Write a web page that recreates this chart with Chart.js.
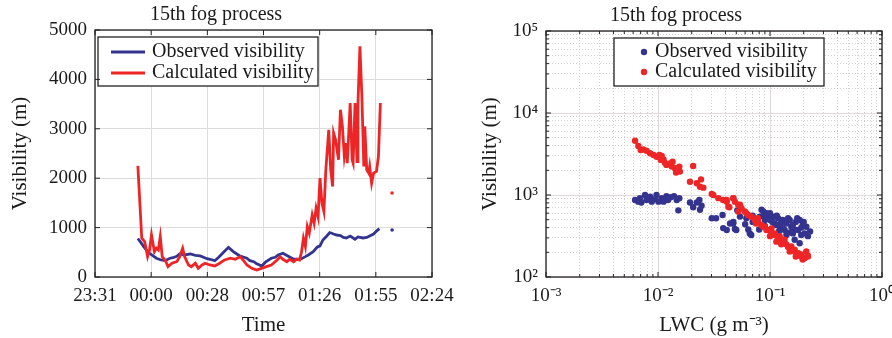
<!DOCTYPE html>
<html>
<head>
<meta charset="utf-8">
<script src="https://cdn.jsdelivr.net/npm/chart.js@4.4.1/dist/chart.umd.min.js"></script>
<style>
  html, body { margin: 0; padding: 0; background: #fff; }
  #wrap { position: relative; width: 892px; height: 338px; overflow: hidden; }
  canvas { position: absolute; top: 0; }
  #timeChart { left: 0; }
  #lwcChart { left: 470px; }
</style>
</head>
<body>
<div id="wrap">
  <canvas id="timeChart" width="470" height="338"></canvas>
  <canvas id="lwcChart" width="422" height="338"></canvas>
</div>
<script>
// 15th fog process: visibility time series and visibility vs LWC

const timeTicks = ['23:31', '00:00', '00:28', '00:57', '01:26', '01:55', '02:24'];
const timeSpan = 173; // minutes between first and last tick

// observed visibility (m); null marks the gap in the record
const obsTime = ['23:53:00','23:54:30','23:56:00','23:57:30','23:59:00','00:02:30','00:05:00','00:07:00','00:09:30','00:11:00',
  '00:13:00','00:14:30','00:17:00','00:20:00','00:22:30','00:25:00','00:28:30','00:30:00','00:32:30','00:34:30',
  '00:37:00','00:39:30','00:42:00','00:44:00','00:45:30','00:49:00','00:50:30','00:52:30','00:54:00','00:55:30',
  '00:56:30','00:58:30','01:01:30','01:03:30','01:05:00','01:07:30','01:10:00','01:13:00','01:15:30','01:17:00',
  '01:19:00','01:20:30','01:23:00','01:25:00','01:26:30','01:28:00','01:30:00','01:31:30','01:33:30','01:35:00',
  '01:37:00','01:38:30','01:40:00','01:42:00','01:44:30','01:46:00','01:48:30','01:50:30','01:52:00','01:54:00',
  '01:55:30','01:57:00','02:00:00','02:03:30'];
const obsVis = [780, 700, 615, 540, 480, 380, 345, 331, 380, 390,
  420, 470, 446, 466, 440, 426, 370, 359, 330, 400,
  500, 600, 513, 460, 426, 380, 330, 310, 270, 243,
  220, 300, 380, 400, 446, 480, 426, 359, 359, 370,
  412, 446, 513, 602, 630, 750, 830, 900, 870, 850,
  840, 800, 790, 830, 764, 810, 790, 800, 831, 870,
  930, 980, null, 950];

// calculated visibility (m)
const calcTime = ['23:53:00','23:55:00','23:56:30','23:58:00','23:59:00','00:00:00','00:01:30','00:02:30','00:03:30','00:04:30',
  '00:05:30','00:07:00','00:08:30','00:10:30','00:13:00','00:14:30','00:16:00','00:17:00','00:19:00','00:20:30',
  '00:22:30','00:24:00','00:26:00','00:27:30','00:30:00','00:32:30','00:35:00','00:37:30','00:40:30','00:43:00',
  '00:45:30','00:47:00','00:49:00','00:51:30','00:54:00','00:56:30','00:59:00','01:01:30','01:04:30','01:06:00',
  '01:07:30','01:09:30','01:11:00','01:13:00','01:14:30','01:16:00','01:17:00','01:18:00','01:19:00','01:20:00',
  '01:21:00','01:22:30','01:23:30','01:24:30','01:25:30','01:26:30','01:27:30','01:28:30','01:29:30','01:31:00',
  '01:32:00','01:33:00','01:33:30','01:34:30','01:36:00','01:37:00','01:38:00','01:39:00','01:40:00','01:40:30',
  '01:42:00','01:43:00','01:43:30','01:44:30','01:45:30','01:46:00','01:47:00','01:48:00','01:49:00','01:49:30',
  '01:50:30','01:51:30','01:52:00','01:53:00','01:54:00','01:55:30','01:56:30','01:57:30','02:00:00','02:03:30'];
const calcVis = [2250, 785, 716, 412, 548, 852, 513, 582, 548, 817,
  412, 345, 209, 278, 310, 412, 582, 412, 243, 209,
  278, 176, 243, 278, 243, 223, 278, 345, 380, 359,
  412, 345, 243, 176, 142, 176, 209, 243, 345, 412,
  359, 310, 359, 310, 359, 345, 500, 785, 615, 1020,
  886, 1257, 1089, 1393, 1223, 2001, 1495, 1324, 2170, 2981,
  2170, 1831, 2914, 2778, 2373, 3387, 3048, 2440, 2711, 2306,
  3523, 2373, 2306, 3523, 2338, 3523, 4671, 3658, 2237, 3048,
  2170, 2103, 2237, 1900, 2103, 2136, 2440, 3523, null, 1700];

// LWC (g m^-3) against visibility (m)
const lwcObs = [0.00624, 0.00667, 0.0069, 0.0071, 0.00766, 0.0079, 0.0085, 0.0088, 0.0094, 0.0097,
  0.0101, 0.0108, 0.0112, 0.0119, 0.0123, 0.0130, 0.0139, 0.0147, 0.0155, 0.0152,
  0.0193, 0.0206, 0.0222, 0.0237, 0.0245, 0.0234, 0.0302, 0.0330, 0.0377, 0.0382,
  0.0411, 0.0470, 0.0486, 0.0510, 0.054, 0.0615, 0.066, 0.068, 0.070, 0.075,
  0.081, 0.087, 0.090, 0.096, 0.100, 0.107, 0.110, 0.118, 0.122, 0.130,
  0.135, 0.140, 0.150, 0.155, 0.160, 0.170, 0.178, 0.184, 0.190, 0.196,
  0.211, 0.218, 0.184, 0.228, 0.044, 0.050, 0.047, 0.084, 0.093, 0.114,
  0.130, 0.166, 0.140, 0.204, 0.088, 0.100, 0.105, 0.115, 0.125, 0.145,
  0.160, 0.175, 0.200, 0.190, 0.165, 0.150, 0.120, 0.090, 0.080, 0.070,
  0.060, 0.064];
const visObs = [869, 830, 915, 810, 1000, 869, 955, 830, 890, 1000,
  830, 915, 830, 970, 869, 940, 970, 869, 915, 650,
  810, 710, 810, 660, 740, 869, 520, 520, 570, 395,
  375, 450, 385, 650, 545, 520, 340, 325, 470, 495,
  545, 630, 495, 570, 495, 545, 450, 520, 410, 495,
  375, 450, 495, 410, 340, 470, 375, 495, 325, 430,
  410, 315, 258, 360, 450, 375, 470, 660, 600, 430,
  390, 285, 325, 340, 560, 600, 470, 560, 450, 520,
  430, 520, 470, 400, 380, 350, 360, 420, 380, 560,
  440, 380];

const lwcCalc = [0.00624, 0.00667, 0.00701, 0.00737, 0.0079, 0.00849, 0.00912, 0.00973, 0.0103, 0.0106,
  0.0112, 0.0115, 0.0119, 0.0128, 0.0133, 0.0142, 0.0149, 0.0155, 0.0145, 0.0157,
  0.0135, 0.0108, 0.0206, 0.0193, 0.0222, 0.0237, 0.0254, 0.0242, 0.0302, 0.0346,
  0.0382, 0.0411, 0.0433, 0.0470, 0.0486, 0.0520, 0.0557, 0.0596, 0.0638, 0.0683,
  0.0731, 0.0783, 0.0838, 0.0897, 0.0961, 0.1029, 0.1102, 0.118, 0.126, 0.135,
  0.145, 0.155, 0.166, 0.178, 0.190, 0.204, 0.218, 0.211, 0.0312, 0.041,
  0.047, 0.0425, 0.054, 0.052, 0.0615, 0.068, 0.078, 0.075, 0.087, 0.093,
  0.103, 0.110, 0.122, 0.135, 0.140, 0.155, 0.166, 0.178, 0.190, 0.204,
  0.218, 0.196, 0.170, 0.150, 0.126, 0.114, 0.100];
const visCalc = [4590, 3963, 3540, 3600, 3460, 3226, 3080, 2930, 3080, 2680,
  2720, 2480, 2330, 2420, 2220, 2120, 2030, 2220, 1880, 1930,
  2550, 3000, 2260, 1453, 1390, 1262, 1230, 1550, 1028, 915,
  870, 830, 710, 915, 830, 760, 690, 630, 570, 545,
  495, 470, 430, 410, 375, 340, 325, 295, 270, 258,
  233, 215, 205, 195, 178, 170, 182, 205, 1000, 870,
  915, 720, 760, 630, 600, 545, 520, 450, 410, 375,
  390, 340, 315, 285, 250, 235, 215, 195, 188, 172,
  178, 163, 178, 205, 250, 270, 315];

const blue = '#34348f';
const red = '#ee2526';

Chart.defaults.font.family = '"Liberation Serif", "Times New Roman", serif';
Chart.defaults.color = '#1a1a1a';

function toMin(s) {
  const p = s.split(':').map(Number);
  let t = p[0] * 60 + p[1] + (p[2] || 0) / 60 - (23 * 60 + 31);
  if (t < 0) t += 1440;
  return t;
}

const sup = {'-': '\u207B', '0': '\u2070', '1': '\u00B9', '2': '\u00B2', '3': '\u00B3',
  '4': '\u2074', '5': '\u2075', '6': '\u2076', '7': '\u2077', '8': '\u2078', '9': '\u2079'};
function powLabel(v) {
  const e = String(Math.round(Math.log10(v)));
  return '10' + e.split('').map(c => sup[c]).join('');
}

// 1..9 x 10^n ticks, minor flag on everything but the decades
function logTicks(e0, e1) {
  const out = [];
  for (let e = e0; e < e1; e++) {
    for (let s = 1; s <= 9; s++) {
      out.push({ value: parseFloat((s * Math.pow(10, e)).toPrecision(3)), minor: s !== 1 });
    }
  }
  out.push({ value: Math.pow(10, e1), minor: false });
  return out;
}

// box round the plot area with inward tick marks on all four sides
const frame = {
  id: 'frame',
  afterDraw(chart) {
    const { ctx, chartArea: a, scales } = chart;
    ctx.save();
    ctx.strokeStyle = '#222';
    ctx.lineWidth = 1;
    ctx.beginPath();
    scales.x.ticks.forEach(t => {
      const px = scales.x.getPixelForValue(t.value);
      const len = t.minor ? 3 : 5;
      ctx.moveTo(px, a.bottom); ctx.lineTo(px, a.bottom - len);
      ctx.moveTo(px, a.top); ctx.lineTo(px, a.top + len);
    });
    scales.y.ticks.forEach(t => {
      const py = scales.y.getPixelForValue(t.value);
      const len = t.minor ? 3 : 5;
      ctx.moveTo(a.left, py); ctx.lineTo(a.left + len, py);
      ctx.moveTo(a.right, py); ctx.lineTo(a.right - len, py);
    });
    ctx.stroke();
    ctx.lineWidth = 1.3;
    ctx.strokeRect(a.left, a.top, a.right - a.left, a.bottom - a.top);
    ctx.restore();
  }
};

// legend drawn inside the axes, boxed
const boxLegend = {
  id: 'boxLegend',
  afterDatasetsDraw(chart, args, opts) {
    const { ctx, chartArea: a } = chart;
    const x = a.left + opts.x, y = a.top + opts.y;
    ctx.save();
    ctx.fillStyle = '#fff';
    ctx.fillRect(x, y, opts.w, opts.h);
    ctx.strokeStyle = '#222';
    ctx.lineWidth = 1.3;
    ctx.strokeRect(x, y, opts.w, opts.h);
    ctx.font = '20px "Liberation Serif", "Times New Roman", serif';
    ctx.textBaseline = 'middle';
    chart.data.datasets.forEach((ds, i) => {
      const ry = y + opts.row0 + i * opts.rowGap;
      const col = ds.borderColor || ds.backgroundColor;
      if (opts.marker === 'line') {
        ctx.strokeStyle = col;
        ctx.lineWidth = 2.8;
        ctx.beginPath();
        ctx.moveTo(x + 13, ry);
        ctx.lineTo(x + 47, ry);
        ctx.stroke();
      } else {
        ctx.fillStyle = col;
        ctx.beginPath();
        ctx.arc(x + 30, ry, 3.2, 0, Math.PI * 2);
        ctx.fill();
      }
      ctx.fillStyle = '#1a1a1a';
      ctx.fillText(ds.label, x + opts.textX, ry);
    });
    ctx.restore();
  }
};

function lonePoint(c) {
  const d = c.dataset.data, i = c.dataIndex;
  const prev = d[i - 1], next = d[i + 1];
  const alone = (!prev || prev.y == null) && (!next || next.y == null);
  return alone ? 1.8 : 0;
}

const titleFont = { size: 20, weight: 'normal' };
const axisTitleFont = { size: 21, weight: 'normal' };
const tickFont = { size: 19 };

new Chart(document.getElementById('timeChart'), {
  type: 'line',
  data: {
    datasets: [{
      label: 'Observed visibility',
      data: obsTime.map((t, i) => ({ x: toMin(t), y: obsVis[i] })),
      borderColor: blue,
      backgroundColor: blue,
      borderWidth: 2.8,
      pointRadius: lonePoint,
      pointBorderWidth: 0,
      spanGaps: false,
      order: 1
    }, {
      label: 'Calculated visibility',
      data: calcTime.map((t, i) => ({ x: toMin(t), y: calcVis[i] })),
      borderColor: red,
      backgroundColor: red,
      borderWidth: 2.8,
      pointRadius: lonePoint,
      pointBorderWidth: 0,
      spanGaps: false,
      order: 0
    }]
  },
  options: {
    responsive: false,
    animation: false,
    layout: { padding: { left: 0, right: 38, top: 0, bottom: 0 } },
    plugins: {
      legend: { display: false },
      tooltip: { enabled: false },
      title: { display: true, text: '15th fog process', font: titleFont, color: '#1a1a1a', padding: { top: 3, bottom: 3 } },
      boxLegend: { x: 3, y: 7, w: 220, h: 49, row0: 15, rowGap: 21, textX: 54, marker: 'line' }
    },
    scales: {
      x: {
        type: 'linear',
        min: 0,
        max: timeSpan,
        afterBuildTicks: s => { s.ticks = timeTicks.map((_, i) => ({ value: i * timeSpan / (timeTicks.length - 1) })); },
        afterFit: s => { s.height = 61; },
        ticks: { autoSkip: false, maxRotation: 0, padding: 8, font: tickFont, callback: (v, i) => timeTicks[i] },
        grid: { color: '#dcdcdc', drawTicks: false },
        border: { display: false },
        title: { display: true, text: 'Time', font: axisTitleFont, padding: { top: 0, bottom: 0 } }
      },
      y: {
        min: 0,
        max: 5000,
        afterFit: s => { s.width = 95; },
        ticks: { stepSize: 1000, padding: 8, font: tickFont, callback: v => String(v) },
        grid: { color: '#dcdcdc', drawTicks: false },
        border: { display: false },
        title: { display: true, text: 'Visibility (m)', font: axisTitleFont, padding: { top: 8, bottom: 0 } }
      }
    }
  },
  plugins: [frame, boxLegend]
});

const minorGrid = c => (c.tick && c.tick.minor) ? '#d2d2d2' : '#e4d8d8';
const minorDash = c => (c.tick && c.tick.minor) ? [1, 2] : [];

new Chart(document.getElementById('lwcChart'), {
  type: 'scatter',
  data: {
    datasets: [{
      label: 'Observed visibility',
      data: lwcObs.map((v, i) => ({ x: v, y: visObs[i] })),
      backgroundColor: blue,
      borderWidth: 0,
      pointRadius: 3.2,
      order: 1
    }, {
      label: 'Calculated visibility',
      data: lwcCalc.map((v, i) => ({ x: v, y: visCalc[i] })),
      backgroundColor: red,
      borderWidth: 0,
      pointRadius: 3.2,
      order: 0
    }]
  },
  options: {
    responsive: false,
    animation: false,
    layout: { padding: { left: 0, right: 10, top: 0, bottom: 0 } },
    plugins: {
      legend: { display: false },
      tooltip: { enabled: false },
      title: { display: true, text: '15th fog process', font: titleFont, color: '#1a1a1a', padding: { top: 4, bottom: 3 } },
      boxLegend: { x: 68, y: 7, w: 210, h: 48, row0: 14, rowGap: 20, textX: 41, marker: 'dot' }
    },
    scales: {
      x: {
        type: 'logarithmic',
        min: 0.001,
        max: 1,
        afterBuildTicks: s => { s.ticks = logTicks(-3, 0); },
        afterFit: s => { s.height = 61; s.paddingLeft = 0; s.paddingRight = 0; },
        ticks: { autoSkip: false, maxRotation: 0, padding: 8, font: tickFont,
          callback: (v, i, ticks) => ticks[i].minor ? '' : powLabel(v) },
        grid: { color: minorGrid, drawTicks: false },
        border: { display: false, dash: minorDash },
        title: { display: true, text: 'LWC (g m\u207B\u00B3)', font: axisTitleFont, padding: { top: 0, bottom: 0 } }
      },
      y: {
        type: 'logarithmic',
        min: 100,
        max: 100000,
        afterBuildTicks: s => { s.ticks = logTicks(2, 5); },
        afterFit: s => { s.width = 76; },
        ticks: { autoSkip: false, padding: 8, font: tickFont,
          callback: (v, i, ticks) => ticks[i].minor ? '' : powLabel(v) },
        grid: { color: minorGrid, drawTicks: false },
        border: { display: false, dash: minorDash },
        title: { display: true, text: 'Visibility (m)', font: axisTitleFont, padding: { top: 8, bottom: 0 } }
      }
    }
  },
  plugins: [frame, boxLegend]
});
</script>
</body>
</html>
